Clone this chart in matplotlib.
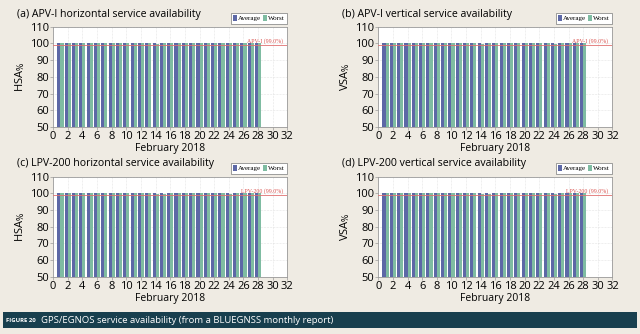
import matplotlib
matplotlib.use("Agg")
import matplotlib.pyplot as plt
from matplotlib.patches import Rectangle
import numpy as np

plt.rcParams["font.family"] = ["Open Sans", "DejaVu Sans"]

# daily availability values (%), February 2018
days = list(range(1, 29))
apv_h_avg = [100.0] * 28
apv_h_worst = [100.0, 100.0, 100.0, 100.0, 100.0, 100.0, 100.0, 100.0, 100.0, 100.0,
               100.0, 100.0, 100.0, 99.9, 100.0, 100.0, 100.0, 100.0, 100.0, 100.0,
               100.0, 100.0, 100.0, 100.0, 100.0, 100.0, 100.0, 100.0]
apv_v_avg = [100.0] * 28
apv_v_worst = [100.0, 100.0, 100.0, 100.0, 100.0, 100.0, 100.0, 100.0, 100.0, 100.0,
               100.0, 100.0, 100.0, 99.9, 100.0, 100.0, 100.0, 100.0, 100.0, 100.0,
               100.0, 100.0, 100.0, 99.9, 100.0, 100.0, 100.0, 100.0]
lpv_h_avg = [100.0] * 28
lpv_h_worst = [100.0, 100.0, 100.0, 100.0, 100.0, 100.0, 100.0, 100.0, 100.0, 100.0,
               100.0, 100.0, 100.0, 99.8, 99.9, 100.0, 100.0, 100.0, 100.0, 100.0,
               100.0, 100.0, 100.0, 99.9, 100.0, 100.0, 100.0, 100.0]
lpv_v_avg = [100.0] * 28
lpv_v_worst = [100.0, 100.0, 100.0, 100.0, 100.0, 100.0, 100.0, 100.0, 100.0, 100.0,
               100.0, 100.0, 100.0, 99.8, 99.9, 100.0, 100.0, 100.0, 100.0, 100.0,
               100.0, 100.0, 100.0, 99.9, 100.0, 100.0, 100.0, 100.0]

panels = [
    ("(a) APV-I horizontal service availability", "HSA", apv_h_avg, apv_h_worst, "APV-I (99.0%)", 99.0),
    ("(b) APV-I vertical service availability", "VSA", apv_v_avg, apv_v_worst, "APV-I (99.0%)", 99.0),
    ("(c) LPV-200 horizontal service availability", "HSA", lpv_h_avg, lpv_h_worst, "LPV-200 (99.0%)", 99.0),
    ("(d) LPV-200 vertical service availability", "VSA", lpv_v_avg, lpv_v_worst, "LPV-200 (99.0%)", 99.0),
]

BG = "#efebe3"
BLUE = "#5d68a6"
GREEN = "#7fbca2"

fig = plt.figure(figsize=(6.4, 3.34), dpi=100, facecolor=BG)

positions = [
    (0.083, 0.620),
    (0.591, 0.620),
    (0.083, 0.171),
    (0.591, 0.171),
]
W, H = 0.366, 0.300

x = np.array(days)
for (title, ylab, avg, worst, req_label, req), (left, bottom) in zip(panels, positions):
    ax = fig.add_axes([left, bottom, W, H])
    ax.set_facecolor("white")
    ax.bar(x - 0.21, avg, width=0.42, color=BLUE, zorder=2, label="Average")
    ax.bar(x + 0.21, worst, width=0.42, color=GREEN, zorder=2, label="Worst")
    ax.axhline(req, color="#e07070", lw=0.6, zorder=3)
    ax.text(31.4, req + 0.6, req_label, color="#d9534f", fontsize=4.2,
            family="Liberation Serif", ha="right", va="bottom", zorder=4)

    ax.set_xlim(0, 32)
    ax.set_ylim(50, 110)
    ax.set_xticks(range(0, 33, 2))
    ax.set_yticks(range(50, 111, 10))
    ax.grid(True, color="#cccccc", lw=0.4, ls=":", zorder=0)
    ax.tick_params(labelsize=8, length=2, width=0.4, color="#888888", pad=1)
    for s in ax.spines.values():
        s.set_color("#999999")
        s.set_linewidth(0.6)
    ax.set_xlabel("February 2018", fontsize=7.5, labelpad=1)
    ax.set_ylabel(ylab + r"$_{\%}$", fontsize=8, labelpad=2)

    fig.text(left - 0.057, bottom + H + 0.038, title, fontsize=7.6, va="center", ha="left")

    leg = ax.legend(loc="lower right", bbox_to_anchor=(1.0, 1.03), ncol=2,
                    prop={"family": "Liberation Serif", "size": 5},
                    handlelength=0.5, handleheight=0.9, handletextpad=0.2,
                    columnspacing=0.3, borderpad=0.35, borderaxespad=0.0,
                    frameon=True, fancybox=False)
    leg.get_frame().set_edgecolor("#7a7a7a")
    leg.get_frame().set_linewidth(0.5)
    leg.get_frame().set_alpha(1.0)

# caption band at the bottom
fig.patches.append(Rectangle((0.005, 0.018), 0.99, 0.047, transform=fig.transFigure,
                             facecolor="#183f4e", edgecolor="none", zorder=0))
fig.text(0.010, 0.041, "FIGURE 20", fontsize=4.3, color="white", weight="bold",
         va="center", ha="left")
fig.text(0.064, 0.041, "GPS/EGNOS service availability (from a BLUEGNSS monthly report)",
         fontsize=6.8, color="white", va="center", ha="left")

fig.savefig("out.png", dpi=100, facecolor=BG)
